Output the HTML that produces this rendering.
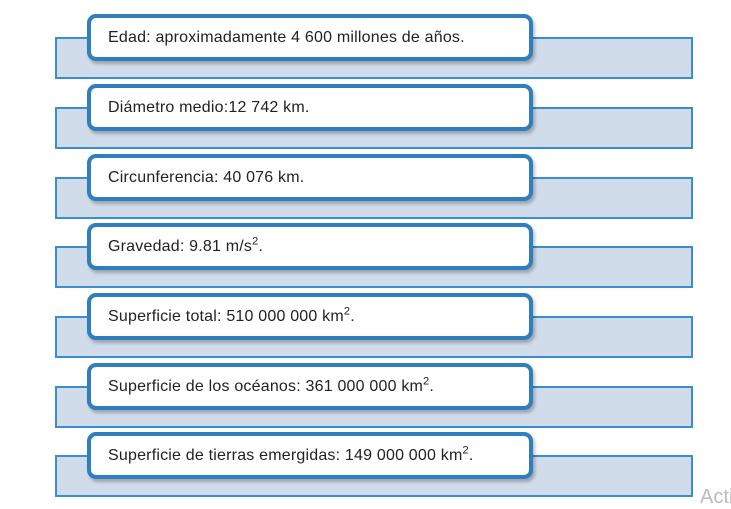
<!DOCTYPE html>
<html><head><meta charset="utf-8"><style>
body{margin:0;width:731px;height:497px;background:#fff;position:relative;overflow:hidden;font-family:"Liberation Sans",sans-serif}
.bg{position:absolute;left:55px;width:634px;height:38px;background:#d0dcea;border:2px solid #3a8ed0}
.box{position:absolute;left:87px;width:421px;height:39px;background:#fff;border:4px solid #2f7fc0;border-radius:9px;box-shadow:2px 3px 3px rgba(0,0,0,.25);font-size:16px;letter-spacing:0.2px;color:#222;line-height:39px;padding-left:17px;box-sizing:content-box;white-space:nowrap}
sup{font-size:11px;line-height:0}
.acti{position:absolute;left:700px;top:486px;font-size:20px;color:#bbb}
</style></head><body>
<div class="bg" style="top:37px"></div>
<div class="box" style="top:14px">Edad: aproximadamente 4 600 millones de años.</div>
<div class="bg" style="top:107px"></div>
<div class="box" style="top:84px">Diámetro medio:12 742 km.</div>
<div class="bg" style="top:177px"></div>
<div class="box" style="top:154px">Circunferencia: 40 076 km.</div>
<div class="bg" style="top:246px"></div>
<div class="box" style="top:223px">Gravedad: 9.81 m/s<sup>2</sup>.</div>
<div class="bg" style="top:316px"></div>
<div class="box" style="top:293px">Superficie total: 510 000 000 km<sup>2</sup>.</div>
<div class="bg" style="top:386px"></div>
<div class="box" style="top:363px">Superficie de los océanos: 361 000 000 km<sup>2</sup>.</div>
<div class="bg" style="top:455px"></div>
<div class="box" style="top:432px">Superficie de tierras emergidas: 149 000 000 km<sup>2</sup>.</div>
<div class="acti">Acti</div>
</body></html>
